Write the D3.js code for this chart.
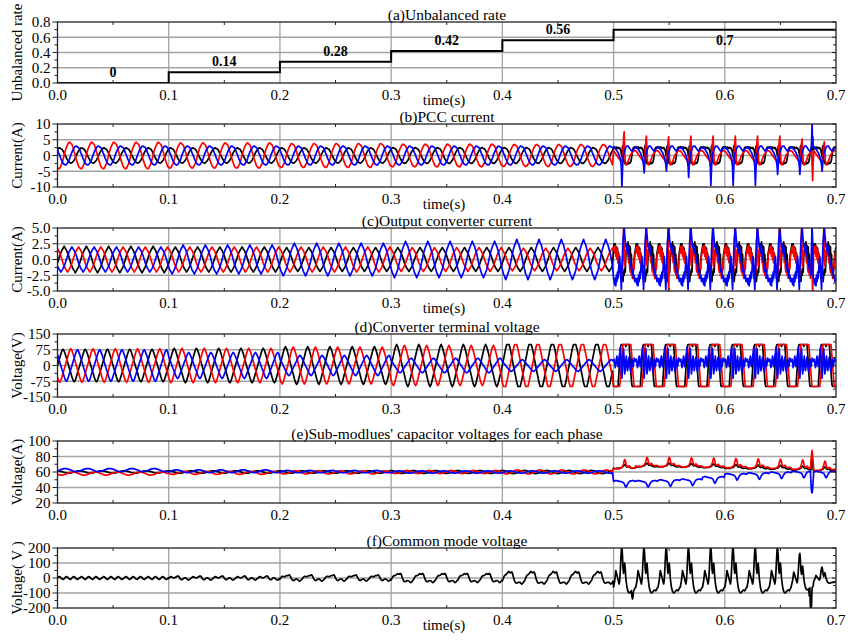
<!DOCTYPE html>
<html>
<head>
<meta charset="utf-8">
<script src="https://cdn.jsdelivr.net/npm/d3@7"></script>
<style>
  body { margin: 0; background: #fff; }
  text { font-family: "Liberation Serif", "Times New Roman", serif; fill: #000; }
</style>
</head>
<body>
<svg id="chart" width="848" height="643"></svg>
<script>

// ---------- data ----------
const timeTicks = [0, 0.1, 0.2, 0.3, 0.4, 0.5, 0.6, 0.7];

// (a) unbalanced rate steps
const rateBreaks = [0, 0.1, 0.2, 0.3, 0.4, 0.5, 0.7];
const rateValues = [0, 0.14, 0.28, 0.42, 0.56, 0.7];

// y tick labels of each panel
const rateTicks = [0, 0.2, 0.4, 0.6, 0.8];
const pccTicks = [-10, -5, 0, 5, 10];
const convTicks = [-5, -2.5, 0, 2.5, 5];
const termTicks = [-150, -75, 0, 75, 150];
const capTicks = [20, 40, 60, 80, 100];
const cmTicks = [-200, -100, 0, 100, 200];

// one 20 ms cycle before 0.5 s, 20 samples (1 ms), peak at sample 5
const pccCycle  = [0.05, 0.36, 0.62, 0.8, 0.97, 1, 0.9, 0.84, 0.6, 0.28, 0.02, -0.33, -0.57, -0.83, -0.93, -1, -0.97, -0.79, -0.62, -0.3];
const convCycle = [0, 0.28, 0.52, 0.7, 0.85, 1, 0.84, 0.72, 0.5, 0.3, 0, -0.3, -0.5, -0.72, -0.84, -1, -0.86, -0.7, -0.53, -0.27];
const termCycle = [0, 0.24, 0.46, 0.7, 0.9, 1, 0.88, 0.69, 0.47, 0.22, -0.02, -0.25, -0.46, -0.7, -0.9, -1, -0.9, -0.68, -0.45, -0.23];
const capCycle  = [0, 0.3, 0.6, 0.82, 0.96, 1, 0.93, 0.78, 0.55, 0.28, 0, -0.3, -0.6, -0.85, -0.98, -1, -0.9, -0.75, -0.52, -0.25];

// peak values per 0.1 s segment (0-0.5 s), black / red / blue
const pccAmpBlack = [2.4, 2.4, 2.4, 2.5, 2.5];
const pccAmpRed   = [4.2, 4.0, 3.8, 3.6, 3.5];
const pccAmpBlue  = [3.0, 3.0, 3.0, 3.0, 3.0];
const convAmpBlack = [2.1, 2.0, 1.9, 1.9, 1.9];
const convAmpRed   = [2.0, 2.0, 2.0, 1.9, 1.8];
const convAmpBlue  = [2.0, 2.3, 2.6, 2.9, 3.2];
const termAmpBlack = [78, 82, 90, 100, 118];
const termAmpRed   = [80, 82, 88, 96, 115];
const termAmpBlue  = [75, 62, 48, 35, 28];
const capMeanBlack = [60, 60, 60, 60, 60];
const capMeanRed   = [58, 59, 59.5, 60, 60];
const capMeanBlue  = [62.5, 61, 60.5, 60, 60];
const capAmpBlack = [1.5, 1.5, 1.5, 1.8, 2];
const capAmpRed   = [2, 2, 2, 2, 2.5];
const capAmpBlue  = [2, 1.8, 1.5, 1.5, 1.5];

// one 20 ms cycle after 0.5 s, 40 samples (0.5 ms)
const pccBlackPost = [2.5, 2.8, 2.3, 2.6, 2.4, 2.7, 2.2, 2.5, 2.4, 2.6, 2.2, 2.4, 2.0, 1.5, 0.5, -0.5, 2.8, 3.2, -1.0, -2.0,
                      -2.5, -2.2, -2.6, -2.3, -2.5, -2.8, -2.4, -2.6, -2.2, -2.5, -2.3, -2.0, -1.2, 0.2, 1.5, 2.2, 2.6, 2.4, 2.7, 2.5];
const pccRedPost = [1.5, 1.3, 1.0, 0.8, 0.5, 0.2, 0, -0.3, -0.5, -0.8, -1.0, -1.3, -1.5, -1.8, -2.0, -1.5, -0.5, 1.0, 2.5, 3.0,
                    1.0, -2.0, -3.0, -3.0, -2.5, -2.2, -2.0, -1.5, -1.0, -0.5, 0, 0.3, 0.5, 0.8, 1.0, 1.3, 1.5, 1.6, 1.5, 1.5];
const pccRedSpike = [0, 0, 0, 0, 0, 0, 0, 0, 0, 0, 0, 0, 0, 0, 0, 0, 0, 1, 3, 4.5,
                     1.5, 0, 0, 0, 0, 0, 0, 0, 0, 0, 0, 0, 0, 0, 0, 0, 0, 0, 0, 0];
const pccBluePost = [2.5, 2.5, 2.5, 2.3, 2.0, 1.8, 1.5, 1.2, 1.0, 0.5, 0, -0.5, -1.0, -2.0, -3.0, -5.0, -3.0, -1.0, 0.5, 1.0,
                     1.5, 2.0, 2.5, 2.8, 3.0, 3.0, 3.0, 2.8, 2.5, 2.3, 2.0, 1.8, 1.5, 1.5, 1.5, 1.8, 2.0, 2.2, 2.5, 2.5];
const pccBlueSpike = [0, 0, 0, 0, 0, 0, 0, 0, 0, 0, 0, 0, 0, 0, -1, -5, -2, 0, 0, 0,
                      0, 0, 0, 0, 0, 0, 0, 0, 0, 0, 0, 0, 0, 0, 0, 0, 0, 0, 0, 0];
const pccRedScale  = [1, 0.7, 0.65, 0.7, 0.7, 0.7, 0.7, 0.7, 0.5, 0.3];
const pccBlueScale = [1, 0.1, 0, 0.4, 0.9, 0.9, 0.9, 0.2, 0.2, 0];

const convBlackPost = [2.0, 2.5, 1.5, 2.5, 1.0, 2.0, 1.2, 1.8, -0.5, 1.0, -0.5, -2.0, -1.0, -3.0, -2.0, -2.5, -1.5, -3.5, -2.0, -2.5,
                       -1.5, -2.0, 0.5, 1.0, 2.5, 1.5, 2.8, 1.2, 2.2, 0.5, 2.0, -0.5, 0.8, -2.0, -1.0, -2.5, -1.5, 0, 1.0, 1.5];
const convRedPost = [1.5, 2.0, 1.0, 2.2, 0.5, 1.8, 0, 1.5, -0.5, 0.8, -1.0, -0.5, -1.5, -2.0, -1.0, -2.5, -1.5, 1.0, 5.0, 2.0,
                     -1.0, 0.5, 1.5, 1.0, 2.0, 0.5, 1.5, -0.5, 0.5, -1.5, -2.0, -1.0, -2.5, -1.5, -3.0, -1.0, -0.5, -1.5, 0.5, 1.0];
const convBluePost = [-3.0, -3.5, -4.0, -3.0, -4.2, -2.5, -3.5, -2.0, -3.0, -1.5, -0.5, 0.5, -1.0, -3.0, -4.8, -2.0, 1.0, 3.0, 4.0, 5.5,
                      4.0, 3.0, 2.0, 2.5, 1.5, 1.0, 2.0, 1.5, 0.5, 0, -0.5, -1.0, -1.5, -2.0, -1.5, -2.5, -3.0, -2.5, -3.5, -3.0];

const termBlackPost = [-100, -100, -100, -100, -100, -100, -100, -100, -100, -60, -20, 30, 70, 95, 100, 100, 100, 100, 100, 100,
                       100, 100, 90, 100, 100, 100, 100, 100, 100, 60, 20, -30, -70, -95, -100, -100, -100, -100, -100, -100];
const termRedPost = [-100, -100, -100, -100, -100, -100, -100, -100, -100, -100, -100, -100, -70, -40, 0, 40, 75, 100, 100, 100,
                     100, 100, 100, 100, 100, 100, 100, 100, 100, 100, 100, 100, 70, 35, 0, -40, -75, -100, -100, -100];
const termBluePost = [20, 30, 10, -10, 0, 30, 45, 20, -5, 10, 40, 60, 85, 40, -30, -60, -20, 50, 80, 30,
                      -40, -20, 20, 45, 10, -25, -10, 25, 40, 15, -20, -30, 0, 30, 20, -5, 10, 35, 30, 20];

const capBlackPost = [0, -0.3, -0.5, -0.5, -0.5, -0.3, 0, -0.2, -0.5, -0.3, 0, 0.2, 0.5, 0.5, 0.8, 1, 1.5, 2, 3, 4,
                      4.5, 4, 3, 2, 1.5, 1.5, 2, 2, 1.5, 1, 0.5, 0.3, 0, -0.2, -0.3, -0.2, 0, 0, 0, 0];
const capRedPost = [0, -0.5, -0.8, -1, -1.2, -1, -0.8, -1, -1.2, -1, -0.8, -0.5, -0.5, 0, 0.5, 1, 2, 3.5, 6, 9,
                    11, 10, 7, 4, 2, 1.5, 2, 2.5, 3, 2.5, 1.5, 1, 0.5, 0, 0, 0.2, 0.5, 0.5, 0.3, 0];
const capBluePost = [0, 0.3, 0.5, 0.8, 1, 1, 0.8, 0.5, 0.5, 0.3, 0, 0, -0.3, -0.5, -0.5, -0.8, -1, -1.5, -2, -3,
                     -4.5, -6.5, -7.5, -7, -5.5, -4, -2.5, -1.5, -0.5, 0, 0.3, 0.5, 0.5, 0.8, 1, 1, 0.8, 0.5, 0.3, 0];
const capLevelBlack = [65, 67, 67, 66.5, 66, 65, 64.5, 64, 63, 62];
const capLevelRed   = [65, 68, 68, 67.5, 67, 66.5, 66, 65.5, 64.5, 63];
const capLevelBlue  = [48, 48, 49, 50, 53, 57, 58, 59, 60, 60];

// (f) common mode voltage
const cmRipple = [0, 0.46, 0.82, 1, 0.94, 0.66, 0.24, -0.24, -0.66, -0.94, -1, -0.82, -0.46, 0, 0.46, 0.82, 1, 0.94, 0.66, 0.24,
                  -0.24, -0.66, -0.94, -1, -0.82, -0.46, 0, 0.46, 0.82, 1, 0.94, 0.66, 0.24, -0.24, -0.66, -0.94, -1, -0.82, -0.46, -0.05];
const cmSlow = [-0.35, -0.3, -0.2, -0.1, 0.05, 0.2, 0.35, 0.5, 0.7, 0.85, 0.95, 1, 0.9, 0.7, 0.5, 0.4, 0.45, 0.5, 0.45, 0.3,
                0.15, 0, -0.1, -0.25, -0.4, -0.5, -0.6, -0.7, -0.75, -0.8, -0.75, -0.7, -0.6, -0.55, -0.5, -0.5, -0.45, -0.4, -0.4, -0.38];
const cmRippleAmp = [9, 9, 10, 12, 14];
const cmSlowAmp = [0, 10, 22, 38, 55];
const cmPost = [-60, -40, -20, 15, 50, 35, 20, 5, -10, -25, -40, -20, 40, 120, 190, 205, 150, 60, 30, 70,
                100, 60, 0, -30, -60, -75, -90, -95, -100, -98, -95, -90, -85, -82, -80, -82, -85, -80, -70, -65];
const cmPostScale = [1, 1, 1, 1, 1, 1, 1, 1, 0.8, 0.35];

// isolated disturbances [time, value]
const pccEventsBlack = [[0.6785, 2], [0.679, 6], [0.6795, 1]];
const pccEventsRed = [[0.6785, -3], [0.679, -8], [0.6795, -2]];
const pccEventsBlue = [[0.678, 4], [0.6785, 10], [0.679, 3]];
const convEventsBlack = [[0.6785, 5.5], [0.679, 1]];
const convEventsRed = [[0.5495, -5.5], [0.6785, -1], [0.679, -5.5], [0.6795, -2]];
const convEventsBlue = [[0.678, 2], [0.6785, 5.5], [0.679, 1]];
const capEventsBlack = [[0.678, 72], [0.6785, 76], [0.679, 72]];
const capEventsRed = [[0.6775, 75], [0.678, 82], [0.6785, 88], [0.679, 80], [0.6795, 72]];
const capEventsBlue = [[0.6775, 45], [0.678, 35], [0.6785, 33], [0.679, 38], [0.6795, 50]];
const cmEvents = [[0.5165, -120], [0.517, -140], [0.5175, -120], [0.676, -120], [0.677, -200], [0.6775, -215], [0.678, -180], [0.679, -60]];

const colors = { black: "#000000", red: "#ff0000", blue: "#0000ff" };

// ---------- build series ----------
function phaseSeries(pre, post, events, limit) {
  const pts = [];
  const n = pre.cycle.length;
  for (let s = 0; s < 5; s++)
    for (let c = 0; c < 5; c++)
      for (let k = 0; k < n; k++) {
        const t = s * 0.1 + c * 0.02 + k * 0.02 / n;
        const v = (pre.mean ? pre.mean[s] : 0) + pre.amp[s] * pre.cycle[(k - pre.shift + 2 * n) % n];
        pts.push([t, v]);
      }
  const m = post.base.length;
  for (let c = 0; c < 10; c++)
    for (let k = 0; k < m; k++) {
      const t = 0.5 + c * 0.02 + k * 0.02 / m;
      let v = post.base[k];
      if (post.level) v += post.level[c];
      if (post.spike) v += post.spike[k] * post.scale[c];
      pts.push([t, v]);
    }
  pts.push([0.7, post.base[0] + (post.level ? post.level[9] : 0)]);
  (events || []).forEach(e => {
    const p = d3.least(pts, q => Math.abs(q[0] - e[0]));
    p[1] = e[1];
  });
  if (limit) pts.forEach(p => { p[1] = Math.max(-limit, Math.min(limit, p[1])); });
  return pts;
}

function commonMode() {
  const pts = [];
  const n = cmRipple.length;
  for (let s = 0; s < 5; s++)
    for (let c = 0; c < 5; c++)
      for (let k = 0; k < n; k++) {
        const t = s * 0.1 + c * 0.02 + k * 0.02 / n;
        pts.push([t, cmRippleAmp[s] * cmRipple[k] + cmSlowAmp[s] * cmSlow[k]]);
      }
  for (let c = 0; c < 10; c++)
    for (let k = 0; k < cmPost.length; k++) {
      const t = 0.5 + c * 0.02 + k * 0.02 / cmPost.length;
      pts.push([t, cmPost[k] * cmPostScale[c]]);
    }
  pts.push([0.7, cmPost[0] * cmPostScale[9]]);
  cmEvents.forEach(e => {
    const p = d3.least(pts, q => Math.abs(q[0] - e[0]));
    p[1] = e[1];
  });
  return pts;
}

const pccSeries = [
  { color: colors.black, pts: phaseSeries({ cycle: pccCycle, amp: pccAmpBlack, shift: 17 }, { base: pccBlackPost }, pccEventsBlack) },
  { color: colors.red, pts: phaseSeries({ cycle: pccCycle, amp: pccAmpRed, shift: 6 }, { base: pccRedPost, spike: pccRedSpike, scale: pccRedScale }, pccEventsRed) },
  { color: colors.blue, pts: phaseSeries({ cycle: pccCycle, amp: pccAmpBlue, shift: 12 }, { base: pccBluePost, spike: pccBlueSpike, scale: pccBlueScale }, pccEventsBlue) }
];
const convSeries = [
  { color: colors.black, pts: phaseSeries({ cycle: convCycle, amp: convAmpBlack, shift: 1 }, { base: convBlackPost }, convEventsBlack) },
  { color: colors.red, pts: phaseSeries({ cycle: convCycle, amp: convAmpRed, shift: 14 }, { base: convRedPost }, convEventsRed) },
  { color: colors.blue, pts: phaseSeries({ cycle: convCycle, amp: convAmpBlue, shift: 8 }, { base: convBluePost }, convEventsBlue) }
];
const termSeries = [
  { color: colors.black, pts: phaseSeries({ cycle: termCycle, amp: termAmpBlack, shift: 0 }, { base: termBlackPost }, null, 100) },
  { color: colors.red, pts: phaseSeries({ cycle: termCycle, amp: termAmpRed, shift: 7 }, { base: termRedPost }, null, 100) },
  { color: colors.blue, pts: phaseSeries({ cycle: termCycle, amp: termAmpBlue, shift: 13 }, { base: termBluePost }, null, 100) }
];
const capSeries = [
  { color: colors.black, pts: phaseSeries({ cycle: capCycle, amp: capAmpBlack, mean: capMeanBlack, shift: 15 }, { base: capBlackPost, level: capLevelBlack }, capEventsBlack) },
  { color: colors.red, pts: phaseSeries({ cycle: capCycle, amp: capAmpRed, mean: capMeanRed, shift: 9 }, { base: capRedPost, level: capLevelRed }, capEventsRed) },
  { color: colors.blue, pts: phaseSeries({ cycle: capCycle, amp: capAmpBlue, mean: capMeanBlue, shift: 2 }, { base: capBluePost, level: capLevelBlue }, capEventsBlue) }
];
const cmSeries = [{ color: colors.black, pts: commonMode() }];

// ---------- layout ----------
const svg = d3.select("#chart");
const x = d3.scaleLinear().domain([0, 0.7]).range([57.5, 836]);

const panels = [
  { key: "a", title: "(a)Unbalanced rate", ylabel: "Unbalanced rate", ticks: rateTicks, dec: 1, top: 22, bottom: 83, timeLabel: true },
  { key: "b", title: "(b)PCC current", ylabel: "Current(A)", ticks: pccTicks, dec: 0, top: 124, bottom: 187, timeLabel: true, series: pccSeries },
  { key: "c", title: "(c)Output converter current", ylabel: "Current(A)", ticks: convTicks, dec: 1, top: 228, bottom: 291, timeLabel: true, series: convSeries },
  { key: "d", title: "(d)Converter terminal voltage", ylabel: "Voltage(V)", ticks: termTicks, dec: 0, top: 334, bottom: 397, series: termSeries },
  { key: "e", title: "(e)Sub-modlues' capacitor voltages for each phase", ylabel: "Voltage(A)", ticks: capTicks, dec: 0, top: 441, bottom: 503, series: capSeries },
  { key: "f", title: "(f)Common mode voltage", ylabel: "Voltage( V )", ticks: cmTicks, dec: 0, top: 548, bottom: 608, timeLabel: true, series: cmSeries }
];

const x0 = x.range()[0], x1 = x.range()[1];
const minorX = d3.range(0.05, 0.7, 0.1);

panels.forEach(p => {
  const y = d3.scaleLinear().domain(d3.extent(p.ticks)).range([p.bottom, p.top]);
  const g = svg.append("g").attr("class", "panel-" + p.key);
  const step = p.ticks[1] - p.ticks[0];
  const minorY = p.ticks.slice(0, -1).map(t => t + step / 2);

  g.append("clipPath").attr("id", "clip-" + p.key)
    .append("rect").attr("x", x0).attr("y", p.top).attr("width", x1 - x0).attr("height", p.bottom - p.top);

  // grid
  g.selectAll(".gx").data(timeTicks.slice(1, -1)).join("line")
    .attr("x1", d => x(d)).attr("x2", d => x(d)).attr("y1", p.top).attr("y2", p.bottom)
    .attr("stroke", "#a3a3a3").attr("stroke-width", 1.3);
  g.selectAll(".gy").data(p.ticks.slice(1, -1)).join("line")
    .attr("x1", x0).attr("x2", x1).attr("y1", d => y(d)).attr("y2", d => y(d))
    .attr("stroke", "#a3a3a3").attr("stroke-width", 1.3);

  // curves
  const line = d3.line().x(d => x(d[0])).y(d => y(d[1]));
  const plot = g.append("g").attr("clip-path", "url(#clip-" + p.key + ")");
  if (p.key === "a") {
    const steps = [];
    rateValues.forEach((v, i) => { steps.push([rateBreaks[i], v]); steps.push([rateBreaks[i + 1], v]); });
    plot.append("path").attr("d", line(steps)).attr("fill", "none").attr("stroke", "#000").attr("stroke-width", 2);
    g.selectAll(".rl").data(rateValues).join("text")
      .attr("x", (d, i) => x((rateBreaks[i] + rateBreaks[i + 1]) / 2))
      .attr("y", (d, i) => i === rateValues.length - 1 ? y(d) + 15 : y(d) - 6)
      .attr("text-anchor", "middle").attr("font-size", 14).attr("font-weight", "bold")
      .text(d => d);
  } else {
    p.series.forEach(s => {
      plot.append("path").attr("d", line(s.pts)).attr("fill", "none")
        .attr("stroke", s.color).attr("stroke-width", 1.7).attr("stroke-linejoin", "round");
    });
  }

  // frame
  g.append("rect").attr("x", x0).attr("y", p.top).attr("width", x1 - x0).attr("height", p.bottom - p.top)
    .attr("fill", "none").attr("stroke", "#222").attr("stroke-width", 1.3);

  // ticks
  const tk = (data, x1f, x2f, y1f, y2f) => g.append("g").selectAll("line").data(data).join("line")
    .attr("x1", x1f).attr("x2", x2f).attr("y1", y1f).attr("y2", y2f).attr("stroke", "#222").attr("stroke-width", 1);
  tk(p.ticks, x0 - 5, x0, d => y(d), d => y(d));
  tk(minorY, x0 - 3, x0, d => y(d), d => y(d));
  tk(p.ticks, x1 - 4, x1, d => y(d), d => y(d));
  tk(minorY, x1 - 3, x1, d => y(d), d => y(d));
  tk(minorX, d => x(d), d => x(d), p.top, p.top + 3);
  tk(minorX, d => x(d), d => x(d), p.bottom - 3, p.bottom);

  // tick labels
  g.selectAll(".yl").data(p.ticks).join("text")
    .attr("x", x0 - 7).attr("y", d => y(d)).attr("dy", "0.35em")
    .attr("text-anchor", "end").attr("font-size", 15)
    .text(d => d.toFixed(p.dec));
  g.selectAll(".xl").data(timeTicks).join("text")
    .attr("x", d => x(d)).attr("y", p.bottom + 17)
    .attr("text-anchor", "middle").attr("font-size", 15)
    .text(d => d.toFixed(1));

  // titles
  g.append("text").attr("x", 447).attr("y", p.top - 2).attr("text-anchor", "middle")
    .attr("font-size", 15.5).text(p.title);
  g.append("text").attr("transform", `translate(22,${(p.top + p.bottom) / 2}) rotate(-90)`)
    .attr("text-anchor", "middle").attr("font-size", 15).text(p.ylabel);
  if (p.timeLabel)
    g.append("text").attr("x", 444).attr("y", p.bottom + 22).attr("text-anchor", "middle")
      .attr("font-size", 15).text("time(s)");
});
</script>
</body>
</html>
